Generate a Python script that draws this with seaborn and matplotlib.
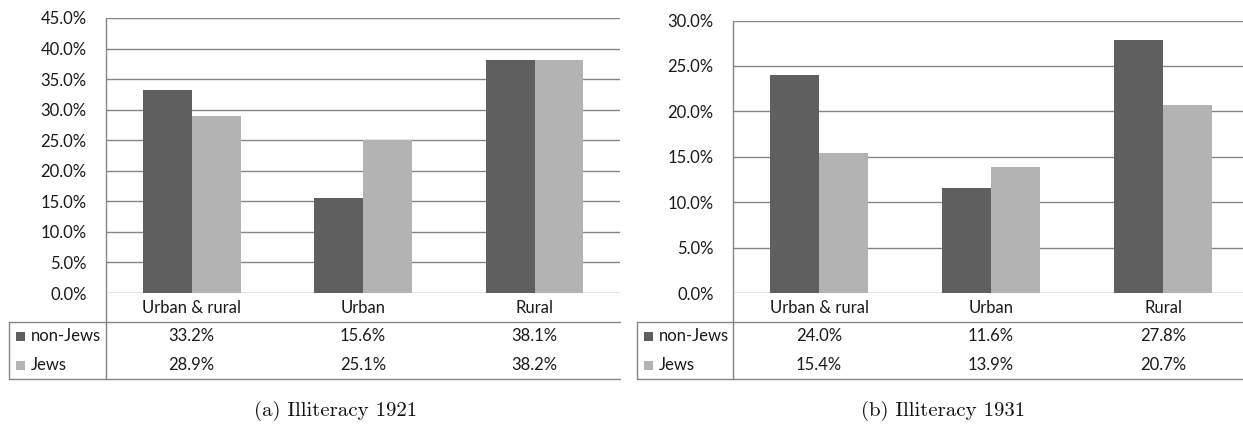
import pandas as pd
import matplotlib.pyplot as plt
import matplotlib.transforms as mtransforms
from matplotlib.lines import Line2D
from matplotlib.patches import Rectangle
from matplotlib.ticker import MultipleLocator, FuncFormatter
import seaborn as sns

categories = ["Urban & rural", "Urban", "Rural"]
groups = ["non-Jews", "Jews"]
nonjews_1921 = [33.2, 15.6, 38.1]
jews_1921 = [28.9, 25.1, 38.2]
nonjews_1931 = [24.0, 11.6, 27.8]
jews_1931 = [15.4, 13.9, 20.7]

W, H = 1243, 424
colors = {"non-Jews": "#5f5f5f", "Jews": "#b3b3b3"}
line_c = "#868686"
text_c = "#1a1a1a"

sns.set_style("white")
plt.rcParams["font.family"] = ["Lato", "DejaVu Sans"]

fig = plt.figure(figsize=(W / 100, H / 100), dpi=100)


def fx(x):
    return x / W


def fy(y):
    return 1 - y / H


def hline(x0, x1, y):
    fig.add_artist(Line2D([fx(x0), fx(x1)], [fy(y), fy(y)], transform=fig.transFigure,
                          color=line_c, lw=1))


def vline(x, y0, y1):
    fig.add_artist(Line2D([fx(x), fx(x)], [fy(y0), fy(y1)], transform=fig.transFigure,
                          color=line_c, lw=1))


def panel(left, top, cat_w, ymax, nonjews, jews, table_left, caption, cap_x):
    bottom = 293
    ax = fig.add_axes([fx(left), fy(bottom), 3 * cat_w / W, (bottom - top) / H])
    df = pd.DataFrame({
        "category": categories * 2,
        "group": [groups[0]] * 3 + [groups[1]] * 3,
        "value": nonjews + jews,
    })
    sns.barplot(data=df, x="category", y="value", hue="group", order=categories,
                hue_order=groups, palette=colors, width=0.57, gap=0, saturation=1,
                linewidth=0, legend=False, ax=ax)
    ax.set_xlim(-0.5, 2.5)
    ax.set_ylim(0, ymax)
    ax.yaxis.set_major_locator(MultipleLocator(5))
    ax.yaxis.set_major_formatter(FuncFormatter(lambda v, p: f"{v:.1f}%"))
    ax.grid(axis="y", color=line_c, lw=1)
    ax.set_axisbelow(True)
    for s in ax.spines.values():
        s.set_visible(False)
    ax.tick_params(length=0, labelsize=12, colors=text_c)
    ax.tick_params(axis="y", pad=14)
    ax.tick_params(axis="x", pad=5)
    ax.set_xlabel("")
    ax.set_ylabel("")

    # data table under the chart
    right = min(left + 3 * cat_w, W)
    vline(left, top, 379)
    hline(table_left, right, 322)
    hline(table_left, right, 379)
    vline(table_left, 322, 379)
    trans = mtransforms.blended_transform_factory(ax.transData, fig.transFigure)
    for row_y, name, vals in [(336, groups[0], nonjews), (365, groups[1], jews)]:
        fig.add_artist(Rectangle((fx(table_left + 7), fy(row_y + 4.5)), 9 / W, 9 / H,
                                 transform=fig.transFigure, color=colors[name], lw=0))
        fig.text(fx(table_left + 22), fy(row_y), name, ha="left", va="center",
                 fontsize=12, color=text_c)
        for i, v in enumerate(vals):
            ax.text(i, fy(row_y), f"{v:.1f}%", transform=trans, ha="center",
                    va="center", fontsize=12, color=text_c, clip_on=False)

    fig.text(fx(cap_x), fy(411), caption, ha="center", va="center",
             fontsize=15, family="cmr10", color="#111111")


panel(106, 18, 171.4, 45, nonjews_1921, jews_1921, 9, "(a) Illiteracy 1921", 336)
panel(733, 20.5, 172, 30, nonjews_1931, jews_1931, 637, "(b) Illiteracy 1931", 943)

fig.savefig("out.png", dpi=100)
